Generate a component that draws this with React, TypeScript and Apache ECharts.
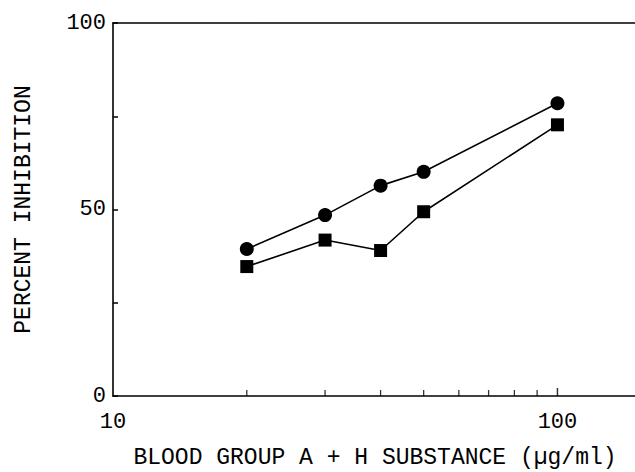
import React, { useEffect, useRef } from "react";
import * as echarts from "echarts";

const concentrations = [20, 30, 40, 50, 100];
const circleSeries = [39.4, 48.5, 56.4, 60.1, 78.5];
const squareSeries = [34.7, 41.8, 39.0, 49.4, 72.7];
const xMinorTicks = [20, 30, 40, 50, 60, 70, 80, 90];
const xMajorTicks = [10, 100];
const yLabels = [0, 50, 100];
const xTitle = "BLOOD GROUP A + H SUBSTANCE (\u00b5g/ml)";
const yTitle = "PERCENT INHIBITION";

const FONT = "Liberation Mono";

export default function App() {
  const ref = useRef<HTMLDivElement>(null);
  useEffect(() => {
    if (!ref.current) return;
    const chart = echarts.init(ref.current, undefined, { renderer: "svg" });
    const lineStyleAxis = { color: "#000", width: 1.6 };
    chart.setOption({
      animation: false,
      backgroundColor: "#fff",
      grid: { left: 113, top: 23, right: -2, bottom: 76, outerBoundsMode: "none", containLabel: false },
      xAxis: [
        {
          type: "log",
          logBase: 10,
          min: 10,
          max: 151,
          position: "bottom",
          name: xTitle,
          nameLocation: "middle",
          nameGap: 50,
          nameTextStyle: { fontFamily: FONT, fontSize: 23, color: "#000" },
          axisLine: { show: true, lineStyle: lineStyleAxis },
          axisTick: { show: false },
          minorTick: { show: false },
          splitLine: { show: false },
          splitArea: { show: false },
          axisLabel: {
            fontFamily: FONT,
            fontSize: 22,
            color: "#000",
            margin: 15,
            customValues: xMajorTicks,
            formatter: (v: number) => String(v),
          },
        },
        {
          type: "log",
          logBase: 10,
          min: 10,
          max: 151,
          position: "top",
          axisLine: { show: true, lineStyle: lineStyleAxis },
          axisTick: { show: false },
          axisLabel: { show: false },
          splitLine: { show: false },
          splitArea: { show: false },
        },
      ],
      yAxis: {
        type: "value",
        min: 0,
        max: 100,
        interval: 25,
        name: yTitle,
        nameLocation: "middle",
        nameGap: 78,
        nameRotate: 90,
        nameTextStyle: { fontFamily: FONT, fontSize: 23, color: "#000" },
        axisLine: { show: true, lineStyle: lineStyleAxis },
        axisTick: { show: true, inside: true, length: 5, lineStyle: { color: "#000", width: 1.5 } },
        splitLine: { show: false },
        axisLabel: {
          fontFamily: FONT,
          fontSize: 22,
          color: "#000",
          margin: 7,
          formatter: (v: number) => (yLabels.includes(v) ? String(v) : ""),
        },
      },
      series: [
        {
          type: "line",
          data: concentrations.map((c, i) => [c, circleSeries[i]]),
          symbol: "circle",
          symbolSize: 14,
          itemStyle: { color: "#000" },
          lineStyle: { color: "#000", width: 1.6 },
        },
        {
          type: "line",
          data: concentrations.map((c, i) => [c, squareSeries[i]]),
          symbol: "rect",
          symbolSize: 13,
          itemStyle: { color: "#000" },
          lineStyle: { color: "#000", width: 1.6 },
        },
        {
          type: "scatter",
          data: xMinorTicks.map((c) => [c, 0]),
          symbol: "rect",
          symbolSize: [1.3, 6],
          symbolOffset: [0, -3],
          itemStyle: { color: "#000" },
          silent: true,
          clip: false,
        },
        {
          type: "scatter",
          data: [[xMajorTicks[1], 0]],
          symbol: "rect",
          symbolSize: [1.5, 8],
          symbolOffset: [0, -4],
          itemStyle: { color: "#000" },
          silent: true,
          clip: false,
        },
      ],
    });
    return () => chart.dispose();
  }, []);
  return (
    <div
      ref={ref}
      style={{ position: "fixed", left: 0, top: 0, width: 635, height: 472, background: "#fff" }}
    />
  );
}
